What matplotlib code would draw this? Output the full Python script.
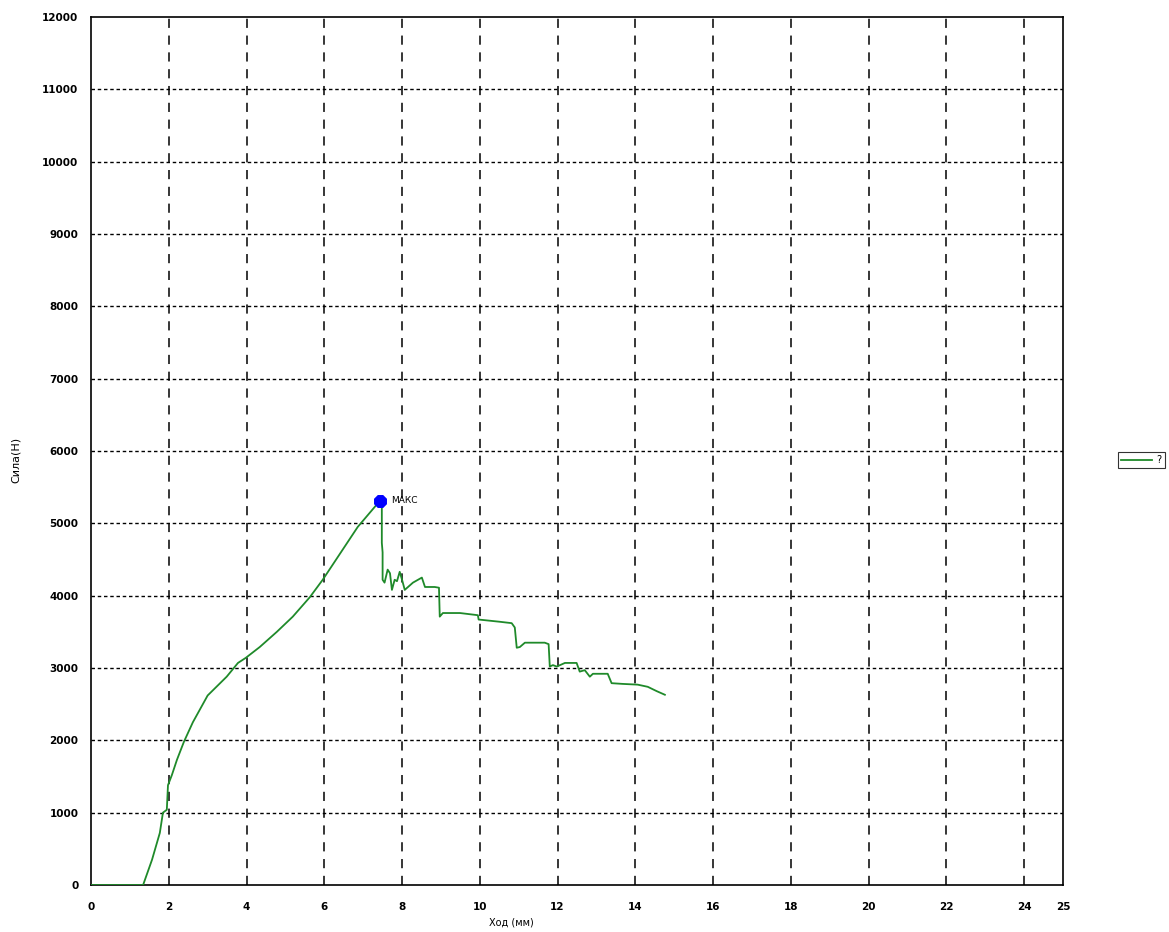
import matplotlib
matplotlib.use('Agg')
import matplotlib.pyplot as plt

# force vs. travel readings
travel = [0, 1.34, 1.57, 1.77, 1.85, 1.95, 1.98, 2.08, 2.21, 2.39, 2.62, 3.0,
          3.49, 3.78, 3.98, 4.34, 4.78, 5.19, 5.63, 5.96, 6.86, 7.35, 7.43,
          7.48, 7.48, 7.50, 7.50, 7.55, 7.63, 7.69, 7.74, 7.81, 7.87, 7.94,
          8.00, 8.07, 8.28, 8.51, 8.59, 8.84, 8.95, 8.97, 9.05, 9.49, 9.95,
          9.97, 10.5, 10.82, 10.90, 10.95, 11.03, 11.16, 11.67, 11.77, 11.80,
          11.88, 11.98, 12.19, 12.49, 12.57, 12.70, 12.83, 12.91, 13.29, 13.39,
          13.68, 14.06, 14.32, 14.55, 14.76]
force = [0, 0, 350, 720, 1000, 1040, 1380, 1520, 1730, 1980, 2250, 2620,
         2880, 3070, 3140, 3290, 3500, 3710, 3980, 4220, 4950, 5260, 5310,
         5300, 4730, 4600, 4220, 4180, 4360, 4310, 4080, 4220, 4200, 4330,
         4220, 4080, 4180, 4250, 4120, 4120, 4110, 3710, 3760, 3760, 3730,
         3670, 3640, 3620, 3560, 3280, 3290, 3350, 3350, 3330, 3020,
         3040, 3020, 3070, 3070, 2950, 2970, 2880, 2920, 2920, 2790,
         2780, 2770, 2740, 2680, 2630]
peak_x, peak_y = 7.43, 5310
series_name = '?'

x_ticks = list(range(0, 25, 2)) + [25]
y_ticks = list(range(0, 12001, 1000))

fig = plt.figure(figsize=(11.69, 9.32), dpi=100)
ax = fig.add_axes([91/1169, 47/932, 972/1169, 868/932])

ax.plot(travel, force, color='#1f8a2a', lw=1.3, label=series_name, zorder=3)
ax.plot([peak_x], [peak_y], marker=(8, 0, 22.5), color='#0000ff', markersize=9,
        ls='none', zorder=4)
ax.text(peak_x + 0.3, peak_y, 'МАКС', fontsize=6.5, va='center', ha='left')

ax.set_xlim(0, 25)
ax.set_ylim(0, 12000)
ax.set_xticks(x_ticks)
ax.set_yticks(y_ticks)

for x in x_ticks[1:-1]:
    ax.axvline(x, color='black', lw=1.1, ls=(0, (6, 5)), zorder=1)
for y in y_ticks[1:-1]:
    ax.axhline(y, color='black', lw=1.0, ls=(0, (2.5, 2)), zorder=1)

ax.tick_params(length=0, labelsize=7.5)
ax.tick_params(axis='x', pad=12)
ax.tick_params(axis='y', pad=9)
for lab in ax.get_xticklabels() + ax.get_yticklabels():
    lab.set_fontweight('bold')
for s in ax.spines.values():
    s.set_linewidth(1.2)

ax.set_xlabel('Ход (мм)', fontsize=7, labelpad=4)
ax.xaxis.set_label_coords(420/972, -0.037)
ax.set_ylabel('Сила(Н)', fontsize=8)
ax.yaxis.set_label_coords(-0.072, 0.49)

leg = fig.legend(loc='center left', bbox_to_anchor=(1113/1169, 1 - 460/932),
                 fontsize=7, fancybox=False, frameon=True, handlelength=3.2,
                 borderpad=0.3, handletextpad=0.5)
leg.get_frame().set_edgecolor('black')
leg.get_frame().set_linewidth(0.8)

fig.savefig('out.png', dpi=100)
